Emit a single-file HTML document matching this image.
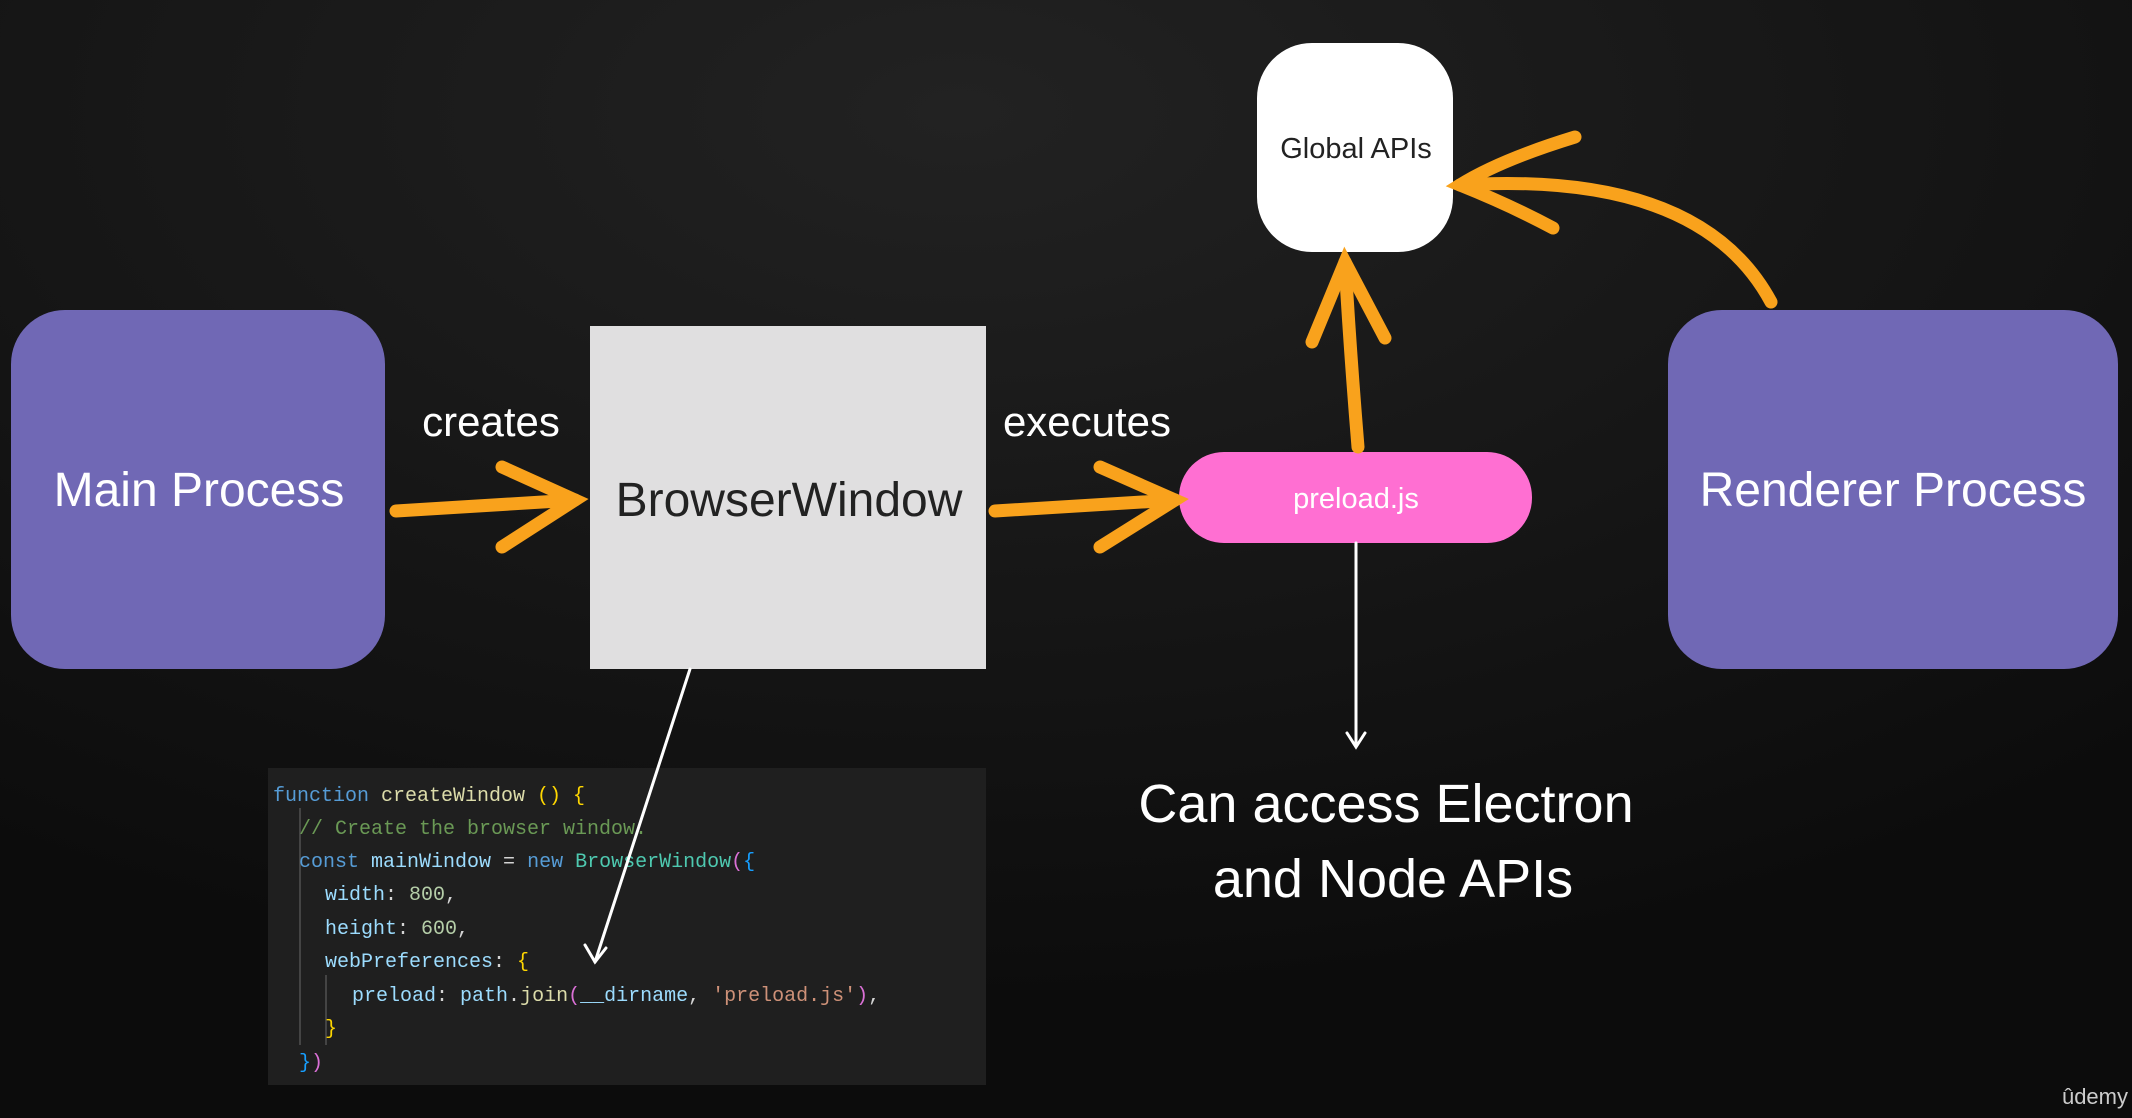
<!DOCTYPE html>
<html><head><meta charset="utf-8"><style>
html,body{margin:0;padding:0;background:#111;}
svg{display:block}
</style></head><body>
<svg width="2132" height="1118" viewBox="0 0 2132 1118" xmlns="http://www.w3.org/2000/svg">
<defs>
<radialGradient id="bg" cx="0.45" cy="0.1" r="0.8">
<stop offset="0" stop-color="#222"/><stop offset="1" stop-color="#0c0c0c"/>
</radialGradient>
</defs>
<rect width="2132" height="1118" fill="url(#bg)"/>
<g font-family="Liberation Sans, sans-serif">
<rect x="11" y="310" width="374" height="359" rx="54" fill="#7068b5"/>
<text x="199" y="506" font-size="48" fill="#fff" text-anchor="middle">Main Process</text>
<rect x="590" y="326" width="396" height="343" fill="#e0dfe0"/>
<text x="789" y="516" font-size="48" fill="#222" text-anchor="middle">BrowserWindow</text>
<rect x="1257" y="43" width="196" height="209" rx="55" fill="#fff"/>
<text x="1356" y="158" font-size="29" fill="#222" text-anchor="middle">Global APIs</text>
<rect x="1179" y="452" width="353" height="91" rx="45" fill="#ff6fd2"/>
<text x="1356" y="508" font-size="29" fill="#fff" text-anchor="middle">preload.js</text>
<rect x="1668" y="310" width="450" height="359" rx="54" fill="#7068b5"/>
<text x="1893" y="506" font-size="48" fill="#fff" text-anchor="middle">Renderer Process</text>
<text x="491" y="436" font-size="42" fill="#fff" text-anchor="middle">creates</text>
<text x="1087" y="436" font-size="42" fill="#fff" text-anchor="middle">executes</text>
<text x="1386" y="822" font-size="54" fill="#fff" text-anchor="middle">Can access Electron</text>
<text x="1393" y="897" font-size="54" fill="#fff" text-anchor="middle">and Node APIs</text>
<text x="2128" y="1104" font-size="22" fill="#ccc" text-anchor="end">ûdemy</text>
</g>
<g stroke="#f9a21c" stroke-width="13" stroke-linecap="round" fill="none">
<path d="M396 511 Q490 505 575 500"/><path d="M502 467 L575 500 L502 547"/>
<path d="M995 511 Q1090 505 1175 500"/><path d="M1100 467 L1175 500 L1100 547"/>
<path d="M1358 447 Q1350 350 1345 262"/><path d="M1312 342 L1345 262 L1385 338"/>
<path d="M1771 302 Q1700 170 1460 185"/><path d="M1575 137 Q1500 160 1460 185 Q1510 205 1553 228"/>
</g>
<rect x="268" y="768" width="718" height="317" fill="#1f1f1f"/>
<g stroke="#444" stroke-width="2"><line x1="300" y1="808" x2="300" y2="1045"/><line x1="326" y1="975" x2="326" y2="1045"/></g>
<g font-family="Liberation Mono, monospace" font-size="20" xml:space="preserve">
<text x="273" y="801"><tspan fill="#569cd6">function</tspan><tspan fill="#dcdcaa"> createWindow </tspan><tspan fill="#ffd700">() {</tspan></text>
<text x="299" y="834" fill="#6a9955">// Create the browser window.</text>
<text x="299" y="867"><tspan fill="#569cd6">const</tspan><tspan fill="#9cdcfe"> mainWindow</tspan><tspan fill="#d4d4d4"> = </tspan><tspan fill="#569cd6">new</tspan><tspan fill="#4ec9b0"> BrowserWindow</tspan><tspan fill="#da70d6">(</tspan><tspan fill="#179fff">{</tspan></text>
<text x="325" y="900"><tspan fill="#9cdcfe">width</tspan><tspan fill="#d4d4d4">: </tspan><tspan fill="#b5cea8">800</tspan><tspan fill="#d4d4d4">,</tspan></text>
<text x="325" y="934"><tspan fill="#9cdcfe">height</tspan><tspan fill="#d4d4d4">: </tspan><tspan fill="#b5cea8">600</tspan><tspan fill="#d4d4d4">,</tspan></text>
<text x="325" y="967"><tspan fill="#9cdcfe">webPreferences</tspan><tspan fill="#d4d4d4">: </tspan><tspan fill="#ffd700">{</tspan></text>
<text x="352" y="1001"><tspan fill="#9cdcfe">preload</tspan><tspan fill="#d4d4d4">: </tspan><tspan fill="#9cdcfe">path</tspan><tspan fill="#d4d4d4">.</tspan><tspan fill="#dcdcaa">join</tspan><tspan fill="#da70d6">(</tspan><tspan fill="#9cdcfe">__dirname</tspan><tspan fill="#d4d4d4">, </tspan><tspan fill="#ce9178">'preload.js'</tspan><tspan fill="#da70d6">)</tspan><tspan fill="#d4d4d4">,</tspan></text>
<text x="325" y="1034" fill="#ffd700">}</text>
<text x="299" y="1068"><tspan fill="#179fff">}</tspan><tspan fill="#da70d6">)</tspan></text>
</g>
<g stroke="#fff" stroke-width="3" fill="none" stroke-linecap="round">
<path d="M690 669 L595 962"/><path d="M585 945 L595 962 L606 948"/>
<path d="M1356 543 L1356 745"/><path d="M1347 733 L1356 747 L1365 733"/>
</g>
</svg>
</body></html>
